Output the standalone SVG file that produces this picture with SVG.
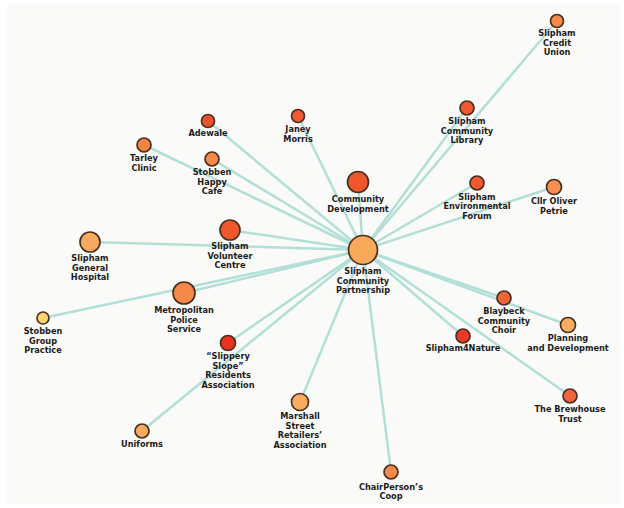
<svg xmlns="http://www.w3.org/2000/svg" width="624" height="508" viewBox="0 0 624 508">
  <style>
    .edge { stroke: #b2dfd7; stroke-width: 2.5; stroke-linecap: round; fill: none; }
    .node circle { stroke: #4a3022; stroke-width: 1.7; }
    .node text { font-family: "DejaVu Sans", "Liberation Sans", sans-serif; font-weight: bold; font-size: 8.2px; fill: #1c1c1c; text-anchor: middle; }
  </style>

  <rect x="0" y="0" width="624" height="508" fill="#ffffff"/>
  <rect x="7" y="4" width="613" height="500" fill="#fafaf8"/>

  <!-- connectors: every partner links to the central partnership -->
  <g id="connectors">
    <line class="edge" x1="363" y1="250" x2="557" y2="21"/>
    <line class="edge" x1="363" y1="250" x2="467" y2="108"/>
    <line class="edge" x1="363" y1="250" x2="477" y2="183"/>
    <line class="edge" x1="363" y1="250" x2="554" y2="187"/>
    <line class="edge" x1="363" y1="250" x2="358" y2="182"/>
    <line class="edge" x1="363" y1="250" x2="298" y2="116"/>
    <line class="edge" x1="363" y1="250" x2="208" y2="121"/>
    <line class="edge" x1="363" y1="250" x2="144" y2="145"/>
    <line class="edge" x1="363" y1="250" x2="212" y2="159"/>
    <line class="edge" x1="363" y1="250" x2="90" y2="242"/>
    <line class="edge" x1="363" y1="250" x2="230" y2="230"/>
    <line class="edge" x1="363" y1="250" x2="184" y2="293"/>
    <line class="edge" x1="363" y1="250" x2="43" y2="318"/>
    <line class="edge" x1="363" y1="250" x2="228" y2="343"/>
    <line class="edge" x1="363" y1="250" x2="142" y2="431"/>
    <line class="edge" x1="363" y1="250" x2="300" y2="402"/>
    <line class="edge" x1="363" y1="250" x2="391" y2="472"/>
    <line class="edge" x1="363" y1="250" x2="463" y2="336"/>
    <line class="edge" x1="363" y1="250" x2="504" y2="298"/>
    <line class="edge" x1="363" y1="250" x2="568" y2="325"/>
    <line class="edge" x1="363" y1="250" x2="570" y2="396"/>
  </g>

  <g id="credit-union" class="node">
    <circle cx="557" cy="21" r="6.5" fill="#f5894a"/>
    <text x="557" y="36">Slipham</text><text x="557" y="45.5">Credit</text><text x="557" y="55">Union</text>
  </g>
  <g id="community-library" class="node">
    <circle cx="467" cy="108" r="7" fill="#f05a30"/>
    <text x="467" y="124">Slipham</text><text x="467" y="133.5">Community</text><text x="467" y="143">Library</text>
  </g>
  <g id="environmental-forum" class="node">
    <circle cx="477" cy="183" r="7" fill="#f05a30"/>
    <text x="477" y="199.5">Slipham</text><text x="477" y="209">Environmental</text><text x="477" y="218.5">Forum</text>
  </g>
  <g id="cllr-oliver-petrie" class="node">
    <circle cx="554" cy="187" r="7.5" fill="#f78e4e"/>
    <text x="554" y="204">Cllr Oliver</text><text x="554" y="213.5">Petrie</text>
  </g>
  <g id="community-development" class="node">
    <circle cx="358" cy="182" r="10.5" fill="#f0582c"/>
    <text x="358" y="202">Community</text><text x="358" y="211.5">Development</text>
  </g>
  <g id="janey-morris" class="node">
    <circle cx="298" cy="116" r="6.5" fill="#f05a30"/>
    <text x="298" y="132">Janey</text><text x="298" y="141.5">Morris</text>
  </g>
  <g id="adewale" class="node">
    <circle cx="208" cy="121" r="6.5" fill="#ef5030"/>
    <text x="208" y="136">Adewale</text>
  </g>
  <g id="tarley-clinic" class="node">
    <circle cx="144" cy="145" r="7" fill="#f5823e"/>
    <text x="144" y="161">Tarley</text><text x="144" y="170.5">Clinic</text>
  </g>
  <g id="stobben-happy-cafe" class="node">
    <circle cx="212" cy="159" r="7" fill="#f58a48"/>
    <text x="212" y="175">Stobben</text><text x="212" y="184.5">Happy</text><text x="212" y="194">Cafe</text>
  </g>
  <g id="general-hospital" class="node">
    <circle cx="90" cy="242" r="10" fill="#f8ab60"/>
    <text x="90" y="261">Slipham</text><text x="90" y="270.5">General</text><text x="90" y="280">Hospital</text>
  </g>
  <g id="volunteer-centre" class="node">
    <circle cx="230" cy="230" r="10" fill="#f0582c"/>
    <text x="230" y="249">Slipham</text><text x="230" y="258.5">Volunteer</text><text x="230" y="268">Centre</text>
  </g>
  <g id="metropolitan-police" class="node">
    <circle cx="184" cy="293" r="11" fill="#f58845"/>
    <text x="184" y="313">Metropolitan</text><text x="184" y="322.5">Police</text><text x="184" y="332">Service</text>
  </g>
  <g id="stobben-group-practice" class="node">
    <circle cx="43" cy="318" r="6" fill="#fbd46e"/>
    <text x="43" y="334">Stobben</text><text x="43" y="343.5">Group</text><text x="43" y="353">Practice</text>
  </g>
  <g id="slippery-slope" class="node">
    <circle cx="228" cy="343" r="7.5" fill="#e8321f"/>
    <text x="228" y="359">“Slippery</text><text x="228" y="368.5">Slope”</text><text x="228" y="378">Residents</text><text x="228" y="387.5">Association</text>
  </g>
  <g id="uniforms" class="node">
    <circle cx="142" cy="431" r="7" fill="#f8aa5e"/>
    <text x="142" y="447">Uniforms</text>
  </g>
  <g id="marshall-street" class="node">
    <circle cx="300" cy="402" r="8.5" fill="#f9ac5f"/>
    <text x="300" y="419">Marshall</text><text x="300" y="428.5">Street</text><text x="300" y="438">Retailers’</text><text x="300" y="447.5">Association</text>
  </g>
  <g id="chairpersons-coop" class="node">
    <circle cx="391" cy="472" r="7" fill="#f58a48"/>
    <text x="391" y="489.5">ChairPerson’s</text><text x="391" y="499">Coop</text>
  </g>
  <g id="slipham4nature" class="node">
    <circle cx="463" cy="336" r="7" fill="#e83a24"/>
    <text x="463" y="351">Slipham4Nature</text>
  </g>
  <g id="blaybeck-choir" class="node">
    <circle cx="504" cy="298" r="7" fill="#f06535"/>
    <text x="504" y="314">Blaybeck</text><text x="504" y="323.5">Community</text><text x="504" y="333">Choir</text>
  </g>
  <g id="planning-development" class="node">
    <circle cx="568" cy="325" r="7.5" fill="#f9ad60"/>
    <text x="568" y="341">Planning</text><text x="568" y="350.5">and Development</text>
  </g>
  <g id="brewhouse-trust" class="node">
    <circle cx="570" cy="396" r="7" fill="#f0643a"/>
    <text x="570" y="412">The Brewhouse</text><text x="570" y="421.5">Trust</text>
  </g>
  <g id="community-partnership" class="node">
    <circle cx="363" cy="250" r="14.5" fill="#f9a95a"/>
    <text x="363" y="274">Slipham</text><text x="363" y="283.5">Community</text><text x="363" y="293">Partnership</text>
  </g>
</svg>
